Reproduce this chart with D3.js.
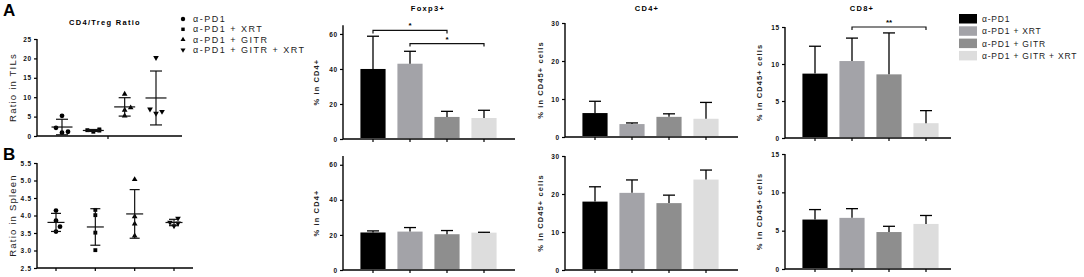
<!DOCTYPE html>
<html>
<head>
<meta charset="utf-8">
<script src="https://cdn.jsdelivr.net/npm/d3@7"></script>
<style>
  body { margin: 0; background: #fff; }
  text { font-family: "Liberation Sans", Arial, sans-serif; }
</style>
</head>
<body>
<div id="chart"></div>
<script>
// groups shared by every panel
const groups = ["α-PD1", "α-PD1 + XRT", "α-PD1 + GITR", "α-PD1 + GITR + XRT"];
const barColors = ["#000000", "#a3a3a8", "#8e8e8e", "#dddddd"];
const markerTypes = [d3.symbolCircle, d3.symbolSquare, d3.symbolTriangle, d3.symbolTriangle];
const markerSizes = [18, 15, 14, 14];

// scatter panels (individual mice)
const tilsRatio = [[5.2, 2.1, 0.85, 1.1], [1.5, 1.1, 1.4, 1.7], [10.8, 7.3, 6.7, 5.2], [20.2, 6.9, 5.8, 6.3]];
const spleenRatio = [[4.14, 3.85, 3.68, 3.54], [4.01, 4.16, 3.51, 3.01], [5.03, 3.97, 3.76, 3.42], [3.92, 3.8, 3.78, 3.7]];
const tilsTicks = [0, 5, 10, 15, 20, 25];
const spleenTicks = [2.5, 3.0, 3.5, 4.0, 4.5, 5.0, 5.5];

// bar panels: mean and SD
const foxp3TilMean = [40, 43, 12.6, 12];
const foxp3TilSd = [18.7, 7.1, 3.2, 4.4];
const foxp3SplMean = [21.4, 21.9, 20.4, 21.3];
const foxp3SplSd = [0.9, 2.3, 2.1, 0.2];
const cd4TilMean = [6.3, 3.4, 5.3, 4.8];
const cd4TilSd = [3.1, 0.3, 0.8, 4.3];
const cd4SplMean = [18, 20.3, 17.6, 23.8];
const cd4SplSd = [3.9, 3.4, 2.1, 2.5];
const cd8TilMean = [8.7, 10.4, 8.6, 2.0];
const cd8TilSd = [3.7, 3.1, 5.6, 1.7];
const cd8SplMean = [6.45, 6.67, 4.82, 5.88];
const cd8SplSd = [1.3, 1.2, 0.75, 1.1];
const foxp3Ticks = [0, 20, 40, 60];
const cd4Ticks = [0, 10, 20, 30];
const cd8Ticks = [0, 5, 10, 15];

// significance brackets [from group, to group, level, stars]
const foxp3Sig = [[0, 2, 62, "*"], [1, 3, 54.5, "*"]];
const cd8Sig = [[1, 3, 15, "**"]];

const svg = d3.select("#chart").append("svg")
  .attr("width", 1084).attr("height", 277)
  .style("background", "#fff");

const tickFont = (sel) => sel.attr("font-size", 6.5).attr("font-weight", "bold")
  .attr("letter-spacing", 0.8).attr("fill", "#111");

// panel letters
svg.append("text").attr("x", 3).attr("y", 16).attr("font-size", 17)
  .attr("font-weight", "bold").text("A");
svg.append("text").attr("x", 3).attr("y", 160).attr("font-size", 17)
  .attr("font-weight", "bold").text("B");

const drawYAxis = (g, y, ticks, fmt) => {
  const ax = g.append("g").call(d3.axisLeft(y).tickValues(ticks).tickSize(3).tickFormat(fmt));
  ax.select(".domain").attr("stroke-width", 1.4).attr("d", `M0,${y.range()[0]}V${y.range()[1]}`);
  ax.selectAll(".tick line").attr("stroke-width", 1.2);
  ax.selectAll(".tick text").call(tickFont).attr("x", -5);
};

const drawXLine = (g, y0, len) => {
  g.append("line").attr("x1", 0).attr("x2", len).attr("y1", y0).attr("y2", y0)
    .attr("stroke", "#000").attr("stroke-width", 1.4);
};

// ---------- scatter panels ----------
const drawScatter = (opts) => {
  const g = svg.append("g").attr("transform", `translate(${opts.x},0)`);
  const y = d3.scaleLinear().domain(opts.domain).range(opts.yRange);
  const x = d3.scalePoint().domain(d3.range(4)).range(opts.xRange);
  drawYAxis(g, y, opts.ticks, opts.fmt);
  drawXLine(g, opts.yRange[0], opts.xLen);
  g.selectAll(".xt").data(opts.xTicks).enter().append("line")
    .attr("x1", (d) => d).attr("x2", (d) => d)
    .attr("y1", opts.yRange[0]).attr("y2", opts.yRange[0] + 3)
    .attr("stroke", "#000").attr("stroke-width", 1.2);

  opts.values.forEach((vals, i) => {
    const cx = x(i);
    const m = d3.mean(vals);
    const sd = d3.deviation(vals);
    // simple dodge for near points
    const sorted = vals.map((v, k) => ({ v, k })).sort((a, b) => a.v - b.v);
    const offs = new Array(vals.length).fill(0);
    for (let k = 1; k < sorted.length; k++) {
      const prev = sorted[k - 1];
      if (Math.abs(y(sorted[k].v) - y(prev.v)) < 5) {
        offs[sorted[k].k] = offs[prev.k] <= 0 ? opts.dodge : -opts.dodge;
        if (offs[prev.k] === 0 && k > 1 && Math.abs(y(sorted[k].v) - y(sorted[k - 2].v)) < 5) offs[sorted[k].k] = 0;
      }
    }
    const sym = d3.symbol().type(markerTypes[i]).size(markerSizes[i]);
    g.selectAll(".p" + i).data(vals).enter().append("path")
      .attr("d", sym)
      .attr("transform", (d, k) => `translate(${cx + offs[k]},${y(d)}) rotate(${i === 3 ? 180 : 0})`)
      .attr("fill", "#000");
    const lines = [
      [cx - opts.meanW / 2, y(m), cx + opts.meanW / 2, y(m)],
      [cx, y(m + sd), cx, y(Math.max(m - sd, opts.domain[0]))],
      [cx - opts.capW / 2, y(m + sd), cx + opts.capW / 2, y(m + sd)],
      [cx - opts.capW / 2, y(m - sd), cx + opts.capW / 2, y(m - sd)],
    ];
    g.selectAll(".l" + i).data(lines).enter().append("line")
      .attr("x1", (d) => d[0]).attr("y1", (d) => d[1])
      .attr("x2", (d) => d[2]).attr("y2", (d) => d[3])
      .attr("stroke", "#111").attr("stroke-width", 1.2);
  });

  const yMid = (opts.yRange[0] + opts.yRange[1]) / 2;
  g.append("text").attr("transform", `translate(-21,${yMid}) rotate(-90)`)
    .attr("text-anchor", "middle").attr("font-size", 9.5).attr("letter-spacing", 1.2)
    .attr("fill", "#222").text(opts.label);
  if (opts.title) {
    g.append("text").attr("x", 68).attr("y", 25).attr("text-anchor", "middle")
      .attr("font-size", 7.5).attr("font-weight", "bold").attr("letter-spacing", 1.3)
      .text(opts.title);
  }
};

drawScatter({
  x: 37, values: tilsRatio, domain: [0, 25], yRange: [136, 39], ticks: tilsTicks,
  fmt: d3.format("d"), xRange: [25, 119], xLen: 145, xTicks: [71], dodge: 6,
  meanW: 21, capW: 12, label: "Ratio in TILs", title: "CD4/Treg Ratio",
});
drawScatter({
  x: 37, values: spleenRatio, domain: [2.5, 5.5], yRange: [268, 163], ticks: spleenTicks,
  fmt: d3.format(".1f"), xRange: [19, 137], xLen: 156, xTicks: [19, 58.3, 97.7, 137], dodge: 4,
  meanW: 17, capW: 10, label: "Ratio in Spleen",
});

// left legend
const leg = svg.append("g");
groups.forEach((name, i) => {
  const ly = 22 + i * 10.3;
  leg.append("path").attr("d", d3.symbol().type(markerTypes[i]).size(markerSizes[i] - 3))
    .attr("transform", `translate(183,${ly - 3}) rotate(${i === 3 ? 180 : 0})`);
  leg.append("text").attr("x", 193).attr("y", ly).attr("font-size", 9)
    .attr("letter-spacing", 1.5).attr("fill", "#222").text(name);
});

// ---------- bar panels ----------
const drawBars = (opts) => {
  const g = svg.append("g").attr("transform", `translate(${opts.x},0)`);
  const y = d3.scaleLinear().domain(opts.domain).range(opts.yRange);
  const x = d3.scaleBand().domain(d3.range(4)).range([11.5, 11.5 + 148])
    .paddingInner(0.32).paddingOuter(0.16);
  const data = opts.mean.map((m, i) => ({ i, m, sd: opts.sd[i] }));

  g.selectAll(".bar").data(data).enter().append("rect")
    .attr("x", (d) => x(d.i)).attr("width", x.bandwidth())
    .attr("y", (d) => y(d.m)).attr("height", (d) => y(0) - y(d.m) - 1)
    .attr("fill", (d) => barColors[d.i]);
  g.selectAll(".ev").data(data).enter().append("line")
    .attr("x1", (d) => x(d.i) + x.bandwidth() / 2).attr("x2", (d) => x(d.i) + x.bandwidth() / 2)
    .attr("y1", (d) => y(d.m)).attr("y2", (d) => y(d.m + d.sd))
    .attr("stroke", "#000").attr("stroke-width", 1.3);
  g.selectAll(".ec").data(data).enter().append("line")
    .attr("x1", (d) => x(d.i) + x.bandwidth() / 2 - 6).attr("x2", (d) => x(d.i) + x.bandwidth() / 2 + 6)
    .attr("y1", (d) => y(d.m + d.sd)).attr("y2", (d) => y(d.m + d.sd))
    .attr("stroke", "#000").attr("stroke-width", 1.3);

  drawYAxis(g, y, opts.ticks, d3.format("d"));
  drawXLine(g, opts.yRange[0], opts.xLen);
  g.selectAll(".xt").data(data).enter().append("line")
    .attr("x1", (d) => x(d.i) + x.bandwidth() / 2).attr("x2", (d) => x(d.i) + x.bandwidth() / 2)
    .attr("y1", opts.yRange[0]).attr("y2", opts.yRange[0] + 3)
    .attr("stroke", "#000").attr("stroke-width", 1.2);

  (opts.sig || []).forEach(([a, b, lvl, stars]) => {
    const xa = x(a) + x.bandwidth() / 2;
    const xb = x(b) + x.bandwidth() / 2;
    const yl = y(lvl);
    g.append("path").attr("d", `M${xa},${yl + 3}V${yl}H${xb}V${yl + 3}`)
      .attr("fill", "none").attr("stroke", "#111").attr("stroke-width", 1.2);
    g.append("text").attr("x", (xa + xb) / 2).attr("y", yl - 2).attr("text-anchor", "middle")
      .attr("font-size", 8).attr("font-weight", "bold").text(stars);
  });

  const yMid = (opts.yRange[0] + opts.yRange[1]) / 2;
  g.append("text").attr("transform", `translate(${opts.labelX},${yMid}) rotate(-90)`)
    .attr("text-anchor", "middle").attr("font-size", 7.5).attr("font-weight", "bold")
    .attr("letter-spacing", 1.1).attr("fill", "#222").text(opts.label);
  if (opts.title) {
    g.append("text").attr("x", opts.titleX).attr("y", 11).attr("text-anchor", "middle")
      .attr("font-size", 7.5).attr("font-weight", "bold").attr("letter-spacing", 1.3)
      .text(opts.title);
  }
};

drawBars({ x: 343, mean: foxp3TilMean, sd: foxp3TilSd, domain: [0, 65], yRange: [139, 25.2],
  ticks: foxp3Ticks, xLen: 172, sig: foxp3Sig, label: "% in CD4+", labelX: -24, title: "Foxp3+", titleX: 85 });
drawBars({ x: 343, mean: foxp3SplMean, sd: foxp3SplSd, domain: [0, 65], yRange: [270, 156],
  ticks: foxp3Ticks, xLen: 172, label: "% in CD4+", labelX: -24 });
drawBars({ x: 565, mean: cd4TilMean, sd: cd4TilSd, domain: [0, 30], yRange: [137, 23],
  ticks: cd4Ticks, xLen: 173, label: "% in CD45+ cells", labelX: -22, title: "CD4+", titleX: 82 });
drawBars({ x: 565, mean: cd4SplMean, sd: cd4SplSd, domain: [0, 30], yRange: [270, 156],
  ticks: cd4Ticks, xLen: 173, label: "% in CD45+ cells", labelX: -22 });
drawBars({ x: 785, mean: cd8TilMean, sd: cd8TilSd, domain: [0, 15], yRange: [138, 27],
  ticks: cd8Ticks, xLen: 166, sig: cd8Sig, label: "% in CD45+ cells", labelX: -23, title: "CD8+", titleX: 77 });
drawBars({ x: 785, mean: cd8SplMean, sd: cd8SplSd, domain: [0, 15], yRange: [269, 154],
  ticks: cd8Ticks, xLen: 166, label: "% in CD45+ cells", labelX: -23 });

// right legend
const rleg = svg.append("g");
groups.forEach((name, i) => {
  const ly = 14 + i * 12.3;
  rleg.append("rect").attr("x", 959).attr("y", ly).attr("width", 18).attr("height", 9.5)
    .attr("fill", barColors[i]);
  rleg.append("text").attr("x", 982).attr("y", ly + 8).attr("font-size", 8.5)
    .attr("letter-spacing", 0.8).attr("fill", "#222").text(name);
});
</script>
</body>
</html>
